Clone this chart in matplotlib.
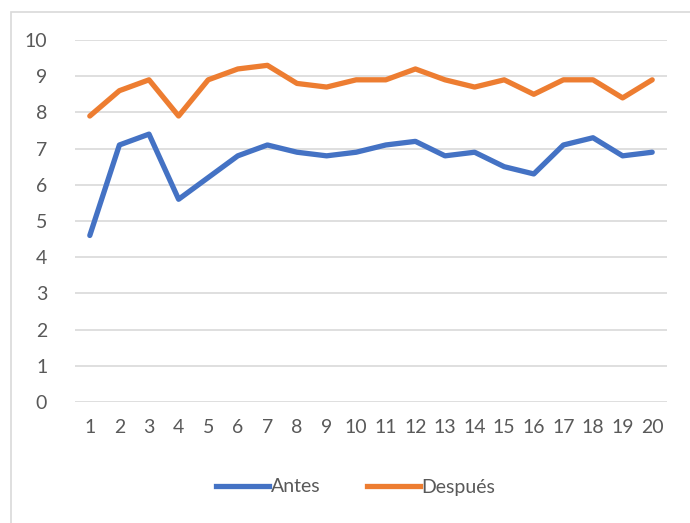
import matplotlib.pyplot as plt
from matplotlib.patches import Rectangle
from matplotlib.lines import Line2D

plt.rcParams['font.family'] = ['Lato', 'DejaVu Sans']

categories = [str(i) for i in range(1, 21)]
antes = [4.6, 7.1, 7.4, 5.6, 6.2, 6.8, 7.1, 6.9, 6.8, 6.9,
         7.1, 7.2, 6.8, 6.9, 6.5, 6.3, 7.1, 7.3, 6.8, 6.9]
despues = [7.9, 8.6, 8.9, 7.9, 8.9, 9.2, 9.3, 8.8, 8.7, 8.9,
           8.9, 9.2, 8.9, 8.7, 8.9, 8.5, 8.9, 8.9, 8.4, 8.9]
y_ticks = list(range(0, 11))

text_color = '#595959'
fig = plt.figure(figsize=(6.9, 5.23), dpi=100)
# outer chart frame (runs off the right and bottom edges)
fig.patches.append(Rectangle((11 / 690, -0.1), 1, 1.1 - 12 / 523, transform=fig.transFigure,
                             fill=False, edgecolor='#D9D9D9', linewidth=1.2))

ax = fig.add_axes([75 / 690, 1 - 402 / 523, (667 - 75) / 690, (402 - 40) / 523])
x = list(range(1, len(categories) + 1))
ax.plot(x, antes, color='#4472C4', linewidth=3.8, solid_capstyle='round', solid_joinstyle='round')
ax.plot(x, despues, color='#ED7D31', linewidth=3.8, solid_capstyle='round', solid_joinstyle='round')

ax.set_xlim(0.5, 20.5)
ax.set_ylim(0, 10)
ax.set_yticks(y_ticks)
ax.set_xticks(x)
ax.set_xticklabels(categories)
ax.grid(axis='y', color='#D9D9D9', linewidth=1.2)
ax.set_axisbelow(True)
for s in ax.spines.values():
    s.set_visible(False)
ax.tick_params(length=0, labelsize=14, colors=text_color)
ax.tick_params(axis='y', pad=20)
ax.tick_params(axis='x', pad=12)

handles = [Line2D([0], [0], color='#4472C4', linewidth=3.8),
           Line2D([0], [0], color='#ED7D31', linewidth=3.8)]
fig.legend(handles, ['Antes', 'Después'], loc='center', bbox_to_anchor=(356 / 690, 1 - 487 / 523),
           ncol=2, frameon=False, fontsize=14, labelcolor=text_color,
           handlelength=2.7, handletextpad=0.1, columnspacing=2.4)

fig.savefig('out.png', dpi=100)
